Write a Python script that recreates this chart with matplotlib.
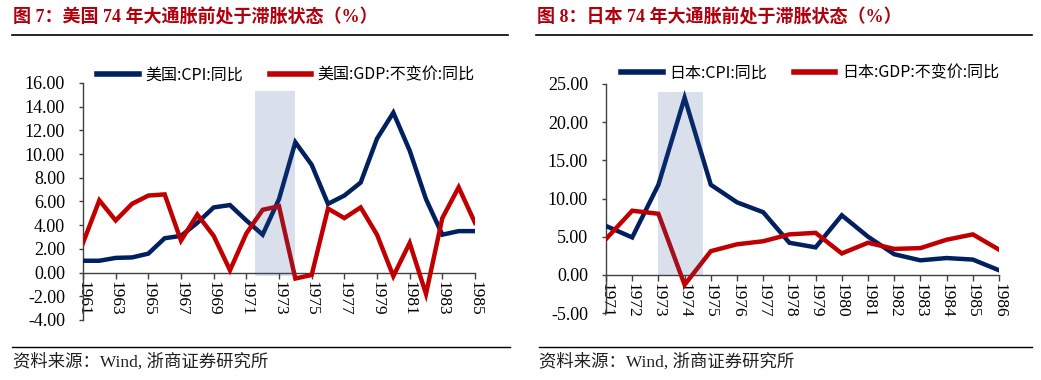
import matplotlib
matplotlib.use("Agg")
import matplotlib.pyplot as plt
from matplotlib.lines import Line2D
from matplotlib.patches import Rectangle
import numpy as np

# ---------------- data ----------------
us_years = list(range(1961, 1986))
us_cpi = [1.0, 1.0, 1.24, 1.28, 1.6, 2.9, 3.1, 4.2, 5.5, 5.7, 4.4, 3.2, 6.2, 11.0,
          9.1, 5.8, 6.5, 7.6, 11.3, 13.5, 10.3, 6.2, 3.2, 3.5, 3.5]
us_gdp = [2.5, 6.1, 4.4, 5.8, 6.5, 6.6, 2.7, 4.9, 3.1, 0.2, 3.3, 5.3, 5.6, -0.5,
          -0.2, 5.4, 4.6, 5.5, 3.2, -0.3, 2.5, -1.8, 4.6, 7.2, 4.2]
us_xticks = list(range(1961, 1986, 2))
us_yticks = list(range(-4, 17, 2))
us_labels = ["美国:CPI:同比", "美国:GDP:不变价:同比"]
us_title = "图 7：美国 74 年大通胀前处于滞胀状态（%）"

jp_years = list(range(1971, 1987))
jp_cpi = [6.4, 4.9, 11.8, 23.2, 11.8, 9.5, 8.2, 4.2, 3.6, 7.8, 5.0, 2.7, 1.9, 2.2, 2.0, 0.6]
jp_gdp = [4.7, 8.4, 8.0, -1.3, 3.1, 4.0, 4.4, 5.3, 5.5, 2.8, 4.2, 3.4, 3.5, 4.6, 5.3, 3.3]
jp_xticks = list(range(1971, 1987))
jp_yticks = list(range(-5, 26, 5))
jp_labels = ["日本:CPI:同比", "日本:GDP:不变价:同比"]
jp_title = "图 8：日本 74 年大通胀前处于滞胀状态（%）"

source = "资料来源：Wind, 浙商证券研究所"

# ---------------- style ----------------
W, H = 1041, 380
NAVY = "#002060"
RED = "#C00000"
TITLE_RED = "#B0000E"
SHADE = "#2F5597"
SERIF = ["Liberation Serif", "Noto Sans CJK SC"]
CJK = ["Noto Sans CJK SC", "DejaVu Sans"]

fig = plt.figure(figsize=(W / 100, H / 100), dpi=100)


def px_axes(x0, x1, ytop, ybot):
    return fig.add_axes([x0 / W, 1 - ybot / H, (x1 - x0) / W, (ybot - ytop) / H])


def style_axes(ax, xticks, yticks, xlim, ylim):
    ax.set_xlim(*xlim)
    ax.set_ylim(*ylim)
    for s in ("top", "right"):
        ax.spines[s].set_visible(False)
    ax.spines["bottom"].set_position(("data", 0))
    for s in ("left", "bottom"):
        ax.spines[s].set_color("#404040")
        ax.spines[s].set_linewidth(1.0)
    ax.set_xticks(xticks)
    ax.set_xticklabels([str(x) for x in xticks], rotation=-90, family=SERIF, fontsize=12.5)
    ax.set_yticks(yticks)
    ax.set_yticklabels(["%.2f" % y for y in yticks], family=SERIF, fontsize=13)
    ax.tick_params(axis="x", direction="out", length=4, width=1, color="#404040", pad=2)
    ax.tick_params(axis="y", direction="out", length=3, width=1, color="#404040", pad=10)
    ax.patch.set_alpha(0)


def draw_panel(ax, years, cpi, gdp, shade, labels, legend_center):
    ax.plot(years, cpi, color=NAVY, lw=3.2, solid_joinstyle="miter", zorder=3)
    ax.plot(years, gdp, color=RED, lw=3.2, solid_joinstyle="miter", zorder=3)
    x0, x1, y0, y1 = shade
    ax.add_patch(Rectangle((x0, y0), x1 - x0, y1 - y0, facecolor=SHADE, alpha=0.18,
                           edgecolor="none", zorder=4))
    handles = [Line2D([], [], color=NAVY, lw=4), Line2D([], [], color=RED, lw=4)]
    ax.legend(handles, labels, ncol=2, frameon=False, loc="center",
              bbox_to_anchor=(legend_center[0] / W, 1 - legend_center[1] / H),
              bbox_transform=fig.transFigure,
              prop={"family": CJK, "size": 11.5}, handlelength=2.6, handletextpad=0.4,
              columnspacing=1.7, borderpad=0, borderaxespad=0)


# Left: US
ax1 = px_axes(83, 475, 83, 320)
style_axes(ax1, us_xticks, us_yticks, (1961, 1985), (-4, 16))
draw_panel(ax1, us_years, us_cpi, us_gdp, (1971.5, 1974.0, -0.25, 15.3), us_labels, (286, 75))

# Right: Japan
ax2 = px_axes(606, 999, 84, 313)
style_axes(ax2, jp_xticks, jp_yticks, (1971, 1986), (-5, 25))
draw_panel(ax2, jp_years, jp_cpi, jp_gdp, (1973.0, 1974.7, 0, 24), jp_labels, (810, 73))

# Titles, rules, sources
for tx, title, lx0, lx1 in ((13, us_title, 12, 508), (537, jp_title, 536, 1032)):
    fig.text(tx / W, 1 - 17 / H, title, color=TITLE_RED, fontsize=13, fontweight="bold",
             family=SERIF, ha="left", va="center")
    fig.add_artist(Line2D([lx0 / W, lx1 / W], [1 - 35 / H, 1 - 35 / H], color="black", lw=1.2))

for tx, lx0, lx1 in ((13, 12, 510), (539, 539, 1032)):
    fig.add_artist(Line2D([lx0 / W, lx1 / W], [1 - 347 / H, 1 - 347 / H], color="black", lw=1.0))
    fig.text(tx / W, 1 - 362 / H, source, color="#202020", fontsize=12.5,
             family=SERIF, ha="left", va="center")

fig.savefig("out.png", dpi=100)
